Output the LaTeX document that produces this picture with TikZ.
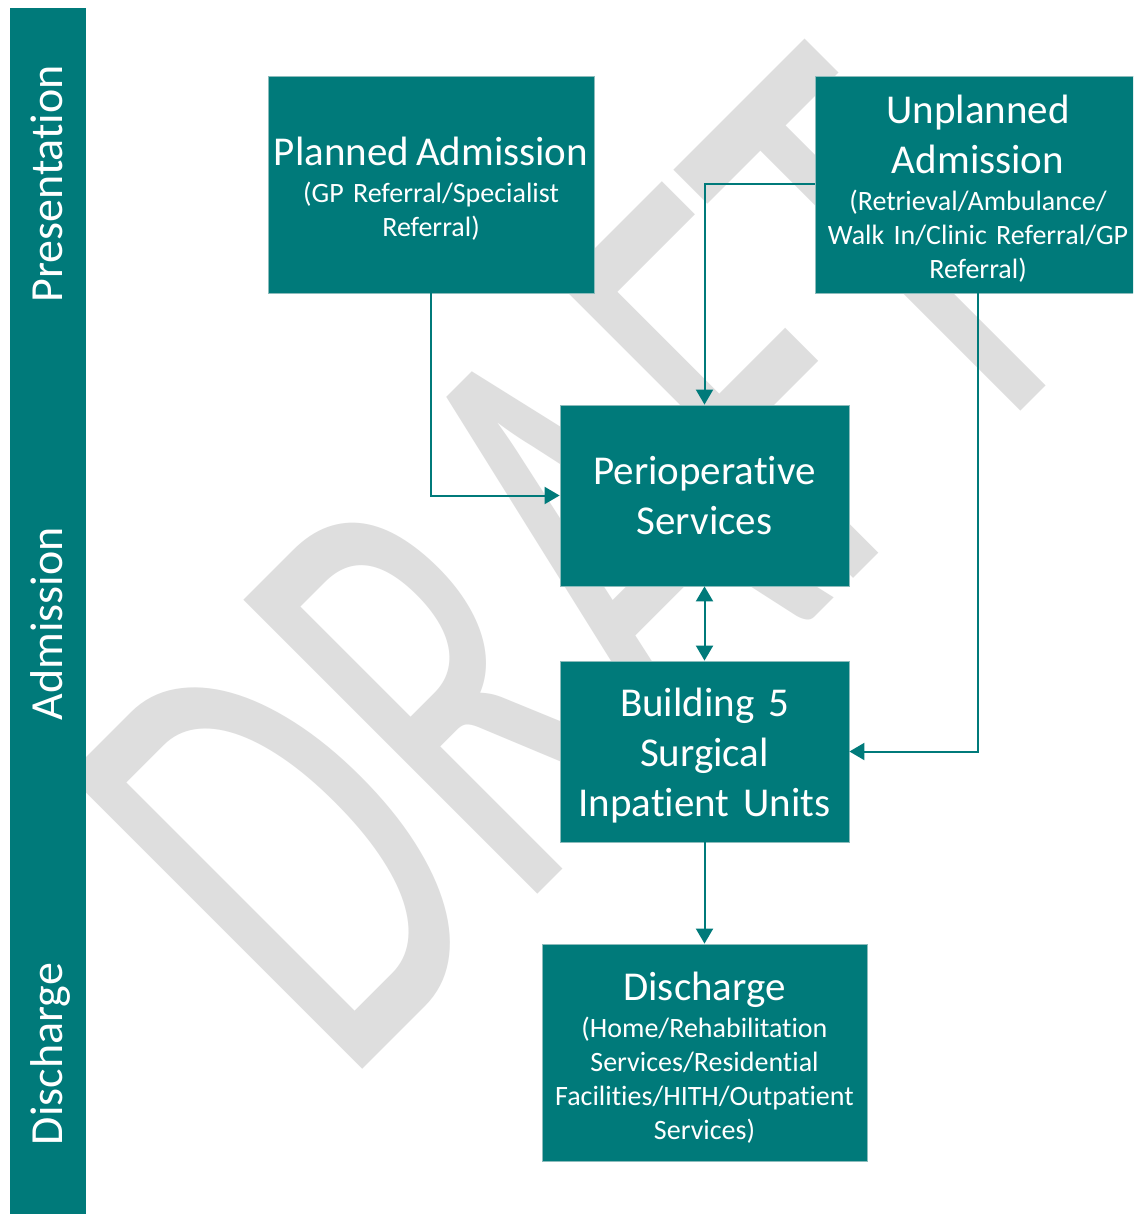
\documentclass[tikz,border=0pt]{standalone}
\usepackage{fontspec}
\setmainfont{Carlito}[Ligatures={NoCommon}]
\usetikzlibrary{arrows.meta}
\definecolor{teal0}{RGB}{0,122,122}
\definecolor{edge0}{RGB}{140,188,188}
\definecolor{wm}{RGB}{222,222,222}
\newcommand{\topstrut}[1]{\rule{0pt}{#1}}
\newcommand{\ttlfont}{\fontsize{41}{50}\selectfont\spaceskip=0.17em\relax}
\newcommand{\subfont}{\fontsize{28}{34}\selectfont\spaceskip=0.17em\relax}
\begin{document}
\begin{tikzpicture}[x=1pt,y=-1pt,
  box/.style={rectangle, fill=teal0, draw=edge0, line width=0.8pt, text=white, align=center, inner sep=0pt},
  ttl/.style={font=\ttlfont},
  sub/.style={font=\subfont},
  phase/.style={rectangle, fill=teal0, minimum width=76pt, inner sep=0pt, anchor=north west},
  plabel/.style={rotate=90, anchor=base, text=white, font=\fontsize{46}{50}\selectfont, inner sep=0pt},
  conn/.style={draw=teal0, line width=2pt},
  arr/.style={conn, -{Triangle[length=15pt,width=17pt]}},
  darr/.style={conn, {Triangle[length=15pt,width=17pt]}-{Triangle[length=15pt,width=17pt]}}]
\useasboundingbox (0,0) rectangle (1133,1214);
\clip (0,0) rectangle (1133,1214);
\fill[white] (0,0) rectangle (1133,1214);

% watermark
\node[text=wm, font=\fontsize{400}{400}\selectfont, rotate=45, yscale=1.62, inner sep=0pt] (draft) at (576,562) {DRAFT};

% phase bar
\node[phase, minimum height=362pt] (ppres) at (10,8) {};
\node[phase, minimum height=516pt] (padm) at (10,369) {};
\node[phase, minimum height=330pt] (pdis) at (10,884) {};
\node[plabel] (lpres) at (62,184) {Presentation};
\node[plabel] (ladm) at (62,624) {Admission};
\node[plabel] (ldis) at (62,1054) {Discharge};

% boxes
\node[box, sub, text width=326pt, minimum height=217pt] (planned) at (431,184.5)
  {{\ttlfont\topstrut{36pt}Planned Admission\par}\vspace{3pt}(GP Referral/Specialist\\Referral)};
\node[box, sub, text width=326pt, minimum height=217pt] (unplanned) at (978,184.5)
  {{\ttlfont\topstrut{36pt}Unplanned\\Admission\par}\vspace{3pt}(Retrieval/Ambulance/\\Walk In/Clinic Referral/GP\\Referral)};
\node[box, ttl, text width=289pt, minimum height=181pt] (perio) at (704.5,495.5)
  {Perioperative\\Services};
\node[box, ttl, text width=289pt, minimum height=181pt] (building) at (704.5,751.5)
  {\topstrut{36pt}Building 5\\Surgical\\Inpatient Units};
\node[box, sub, text width=325pt, minimum height=217pt] (discharge) at (704.5,1052.5)
  {{\ttlfont\topstrut{39pt}Discharge\par}\vspace{3pt}(Home/Rehabilitation\\Services/Residential\\Facilities/HITH/Outpatient\\Services)};

% connectors
\draw[arr] (planned.south) |- (perio.west);
\draw[arr] (unplanned.west) -| (perio.north);
\draw[arr] (unplanned.south) |- (building.east);
\draw[darr] (perio.south) -- (building.north);
\draw[arr] (building.south) -- (discharge.north);
\end{tikzpicture}
\end{document}
